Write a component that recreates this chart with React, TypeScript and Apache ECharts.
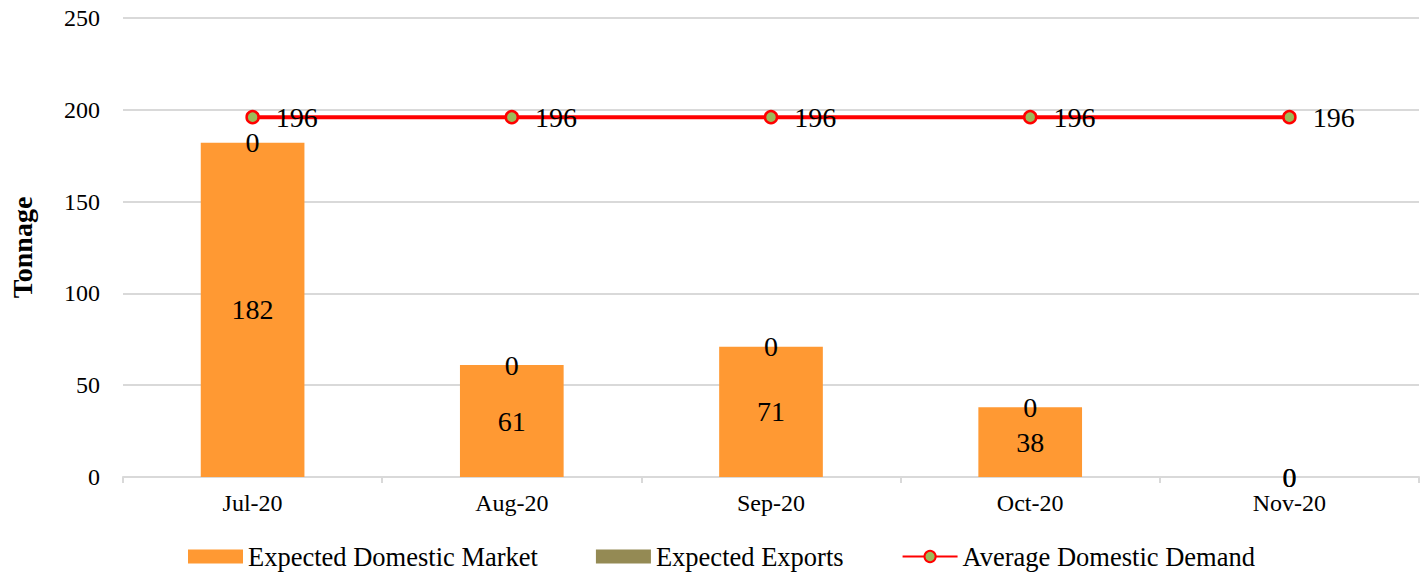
import React, { useEffect, useRef } from "react";
import * as echarts from "echarts";

const categories = ["Jul-20", "Aug-20", "Sep-20", "Oct-20", "Nov-20"];
const domesticMarket = [182, 61, 71, 38, 0];
const exportsValues = [0, 0, 0, 0, 0];
const avgDemand = [196, 196, 196, 196, 196];

const FONT = "'Liberation Serif', 'Times New Roman', serif";

export default function App() {
  const ref = useRef<HTMLDivElement>(null);
  useEffect(() => {
    const chart = echarts.init(ref.current!, null, { renderer: "svg" });
    chart.setOption({
      animation: false,
      backgroundColor: "#ffffff",
      textStyle: { fontFamily: FONT, color: "#000" },
      grid: { left: 123, right: 9, top: 18, bottom: 97, containLabel: false, outerBoundsMode: "none" },
      legend: {
        top: 538,
        left: 183,
        itemWidth: 55,
        itemHeight: 14,
        itemGap: 58,
        textStyle: { fontFamily: FONT, fontSize: 26.5, color: "#000" },
        data: [
          { name: "Expected Domestic Market", icon: "rect" },
          { name: "Expected Exports", icon: "rect" },
          { name: "Average Domestic Demand" },
        ],
      },
      xAxis: {
        type: "category",
        data: categories,
        boundaryGap: true,
        axisLine: { lineStyle: { color: "#d9d9d9", width: 2 } },
        axisTick: { show: true, alignWithLabel: false, length: 6, lineStyle: { color: "#d9d9d9", width: 2 } },
        axisLabel: { fontFamily: FONT, fontSize: 24, color: "#000", margin: 14 },
      },
      yAxis: {
        type: "value",
        min: 0,
        max: 250,
        interval: 50,
        name: "Tonnage",
        nameLocation: "middle",
        nameGap: 87,
        nameTextStyle: { fontFamily: FONT, fontSize: 28, fontWeight: "bold", color: "#000" },
        axisLine: { show: false },
        axisTick: { show: false },
        axisLabel: { fontFamily: FONT, fontSize: 24, color: "#000", margin: 23 },
        splitLine: { lineStyle: { color: "#d9d9d9", width: 2 } },
      },
      series: [
        {
          name: "Expected Domestic Market",
          type: "bar",
          stack: "total",
          data: domesticMarket,
          barWidth: "40%",
          itemStyle: { color: "#FF9933" },
          label: { show: true, position: "inside", fontFamily: FONT, fontSize: 28, color: "#000" },
        },
        {
          name: "Expected Exports",
          type: "bar",
          stack: "total",
          data: exportsValues,
          barWidth: "40%",
          itemStyle: { color: "#948A54" },
          label: { show: true, position: "inside", fontFamily: FONT, fontSize: 28, color: "#000" },
        },
        {
          name: "Average Domestic Demand",
          type: "line",
          data: avgDemand,
          symbol: "circle",
          symbolSize: 12,
          lineStyle: { color: "#FF0000", width: 4 },
          itemStyle: { color: "#9BBB59", borderColor: "#FF0000", borderWidth: 2.5 },
          label: { show: true, position: "right", distance: 16, fontFamily: FONT, fontSize: 28, color: "#000" },
          z: 5,
        },
      ],
    });
    return () => chart.dispose();
  }, []);
  return (
    <div
      ref={ref}
      style={{ position: "absolute", left: 0, top: 0, width: 1428, height: 574 }}
    />
  );
}
